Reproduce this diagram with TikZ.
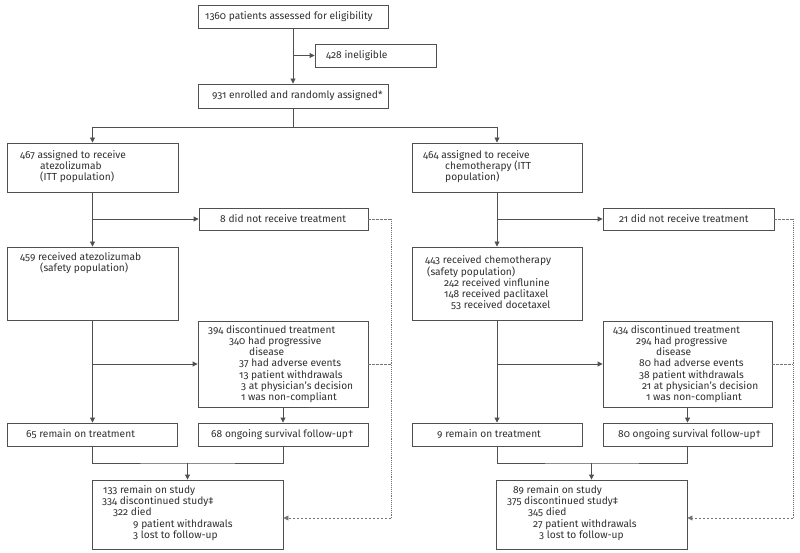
\documentclass[tikz,border=0pt]{standalone}
\usepackage{fontspec}
\setmainfont{Fira Sans}[Numbers=OldStyle]
\usetikzlibrary{arrows.meta}
\definecolor{ln}{HTML}{505050}
\definecolor{tx}{HTML}{303030}
\begin{document}
\begin{tikzpicture}[x=1pt,y=-1pt,
  box/.style={draw=ln,line width=0.9pt,rectangle,inner sep=0pt},
  txt/.style={text=tx,inner sep=0pt,anchor=west,align=left,font=\fontsize{10.2}{11.2}\selectfont},
  arr/.style={draw=ln,line width=0.9pt,-{Triangle[length=5pt,width=5pt]}},
  lin/.style={draw=ln,line width=0.9pt},
  dashln/.style={draw=ln!80,line width=0.8pt,dash pattern=on 2.5pt off 1.5pt},
  dotln/.style={draw=ln!80,line width=0.8pt,dash pattern=on 0.9pt off 1pt}]
\useasboundingbox[fill=white] (0,0) rectangle (800,553);
% boxes
\node[box,minimum width=190pt,minimum height=23pt] (elig) at (293,16.5) {};
\node[box,minimum width=121pt,minimum height=23pt] (inel) at (375.5,55.5) {};
\node[box,minimum width=190pt,minimum height=24pt] (enr) at (293,96) {};
\node[box,minimum width=171pt,minimum height=49pt] (a467) at (92.5,167.5) {};
\node[box,minimum width=170pt,minimum height=49pt] (c464) at (497,167.5) {};
\node[box,minimum width=169pt,minimum height=22pt] (nrA) at (283.5,219) {};
\node[box,minimum width=171pt,minimum height=22pt] (nrC) at (688.5,219) {};
\node[box,minimum width=171pt,minimum height=73pt] (s459) at (92.5,283.5) {};
\node[box,minimum width=170pt,minimum height=73pt] (s443) at (497,283.5) {};
\node[box,minimum width=170pt,minimum height=86pt] (dA) at (283,364) {};
\node[box,minimum width=169pt,minimum height=86pt] (dC) at (687.5,364) {};
\node[box,minimum width=170pt,minimum height=23pt] (rA) at (92.5,434.5) {};
\node[box,minimum width=170pt,minimum height=23pt] (fA) at (283,434.5) {};
\node[box,minimum width=170pt,minimum height=23pt] (rC) at (497,434.5) {};
\node[box,minimum width=169pt,minimum height=23pt] (fC) at (687.5,434.5) {};
\node[box,minimum width=191pt,minimum height=69pt] (stA) at (187.5,514.5) {};
\node[box,minimum width=191pt,minimum height=69pt] (stC) at (591.5,514.5) {};
% texts
\node[txt] (t1360) at (205,16.5) {1360 patients assessed for eligibility};
\node[txt] (t428) at (326,55.5) {428 ineligible};
\node[txt] (t931) at (212,96) {931 enrolled and randomly assigned*};
\node[txt] (t467) at (20,166.5) {467 assigned to receive\\\hspace*{20pt}atezolizumab\\\hspace*{20pt}(ITT population)};
\node[txt] (t464) at (423,166.5) {464 assigned to receive\\\hspace*{22pt}chemotherapy (ITT\\\hspace*{22pt}population)};
\node[txt] (t8) at (220,219) {8 did not receive treatment};
\node[txt] (t21) at (619,219) {21 did not receive treatment};
\node[txt] (t459) at (20,263.5) {459 received atezolizumab\\\hspace*{20pt}(safety population)};
\node[txt] (t443) at (425,283) {443 received chemotherapy\\\hspace*{2pt}(safety population)\\\hspace*{19pt}242 received vinflunine\\\hspace*{19pt}148 received paclitaxel\\\hspace*{26pt}53 received docetaxel};
\node[txt] (tdA) at (208,364) {394 discontinued treatment\\\hspace*{21pt}340 had progressive\\\hspace*{41pt}disease\\\hspace*{31pt}37 had adverse events\\\hspace*{31pt}13 patient withdrawals\\\hspace*{33pt}3 at physician’s decision\\\hspace*{33pt}1 was non-compliant};
\node[txt] (tdC) at (613,364) {434 discontinued treatment\\\hspace*{23pt}294 had progressive\\\hspace*{43pt}disease\\\hspace*{26pt}80 had adverse events\\\hspace*{26pt}38 patient withdrawals\\\hspace*{29pt}21 at physician’s decision\\\hspace*{33pt}1 was non-compliant};
\node[txt] (t65) at (26,434.5) {65 remain on treatment};
\node[txt] (t68) at (211,434.5) {68 ongoing survival follow-up†};
\node[txt] (t9) at (437,434.5) {9 remain on treatment};
\node[txt] (t80) at (618,434.5) {80 ongoing survival follow-up†};
\node[txt] (tstA) at (102,513) {\hspace*{1pt}133 remain on study\\334 discontinued study‡\\\hspace*{11pt}322 died\\\hspace*{31pt}9 patient withdrawals\\\hspace*{31pt}3 lost to follow-up};
\node[txt] (tstC) at (507,513) {\hspace*{6pt}89 remain on study\\375 discontinued study‡\\\hspace*{21pt}345 died\\\hspace*{26pt}27 patient withdrawals\\\hspace*{32pt}3 lost to follow-up};
% coordinates
\coordinate (split) at (293,127);
\coordinate (mA) at (187.5,463);
\coordinate (mC) at (591.5,463);
\coordinate (vAt) at (391,219);
\coordinate (vAb) at (391,518);
\coordinate (vCt) at (793,219);
\coordinate (vCb) at (793,518);
% connectors top
\draw[arr] (elig.south) -- (enr.north);
\draw[arr] (elig.south |- inel.west) -- (inel.west);
\draw[lin] (enr.south) -- (split);
\draw[lin] (a467.north |- split) -- (c464.north |- split);
\draw[arr] (a467.north |- split) -- (a467.north);
\draw[arr] (c464.north |- split) -- (c464.north);
% left arm
\draw[arr] (a467.south) -- (s459.north);
\draw[arr] (a467.south |- nrA.west) -- (nrA.west);
\draw[arr] (s459.south) -- (rA.north);
\draw[arr] (s459.south |- dA.west) -- (dA.west);
\draw[arr] (dA.south) -- (fA.north);
\draw[lin] (rA.south) |- (mA) -| (fA.south);
\draw[arr] (mA) -- (stA.north);
\draw[dashln] (nrA.east) -- (vAt);
\draw[dashln] (dA.east) -- (dA.east -| vAt);
\draw[dotln] (vAt) -- (vAb);
\draw[dashln,-{Triangle[length=5pt,width=5pt]}] (vAb) -- (vAb -| stA.east);
% right arm
\draw[arr] (c464.south) -- (s443.north);
\draw[arr] (c464.south |- nrC.west) -- (nrC.west);
\draw[arr] (s443.south) -- (rC.north);
\draw[arr] (s443.south |- dC.west) -- (dC.west);
\draw[arr] (dC.south) -- (fC.north);
\draw[lin] (rC.south) |- (mC) -| (fC.south);
\draw[arr] (mC) -- (stC.north);
\draw[dashln] (nrC.east) -- (vCt);
\draw[dashln] (dC.east) -- (dC.east -| vCt);
\draw[dotln] (vCt) -- (vCb);
\draw[dashln,-{Triangle[length=5pt,width=5pt]}] (vCb) -- (vCb -| stC.east);
\end{tikzpicture}
\end{document}
